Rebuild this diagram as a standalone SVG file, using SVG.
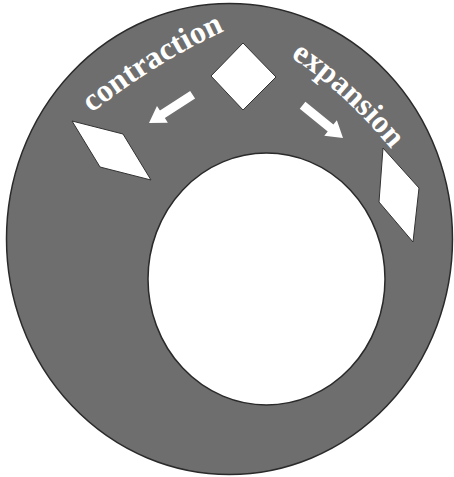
<svg xmlns="http://www.w3.org/2000/svg" width="454" height="477" viewBox="0 0 454 477">
  <defs>
    <style>
      .ring { fill: #6e6e6e; stroke: #2a2a2a; stroke-width: 1.5; }
      .hole { fill: #ffffff; stroke: #2a2a2a; stroke-width: 1.5; }
      .cut { fill: #ffffff; stroke: #333333; stroke-width: 1; stroke-linejoin: miter; }
      .arrow { fill: #ffffff; stroke: none; }
      .lbl { font-family: "Liberation Serif", "Times New Roman", serif; font-weight: bold; font-size: 32px; fill: #ffffff; }
    </style>
    <path id="pContraction" d="M 88 116 Q 155 62 229 29" fill="none"/>
    <path id="pExpansion" d="M 290 57 Q 340 88 392 150" fill="none"/>
  </defs>

  <g id="outer-ring">
    <ellipse class="ring" cx="229.5" cy="239" rx="223" ry="235.5"/>
  </g>
  <g id="inner-circle">
    <ellipse class="hole" cx="266.5" cy="279" rx="118.5" ry="126"/>
  </g>

  <g id="diamond-top">
    <polygon class="cut" points="243,43 276,77 243,110 211,76"/>
  </g>
  <g id="parallelogram-left">
    <polygon class="cut" points="72,121 123,134 151,180 100,167"/>
  </g>
  <g id="parallelogram-right">
    <polygon class="cut" points="383,148 419,188 413,242 379,202"/>
  </g>

  <g id="connectors">
    <polygon class="arrow" transform="translate(149,123) rotate(147)" points="0,0 -16,-10 -16,-4.5 -52,-4.5 -52,4.5 -16,4.5 -16,10"/>
    <polygon class="arrow" transform="translate(343,138) rotate(39)" points="0,0 -16,-10 -16,-4.5 -52,-4.5 -52,4.5 -16,4.5 -16,10"/>
  </g>

  <g id="labels">
    <text class="lbl"><textPath href="#pContraction" startOffset="50%" text-anchor="middle">contraction</textPath></text>
    <text class="lbl"><textPath href="#pExpansion" startOffset="50%" text-anchor="middle">expansion</textPath></text>
  </g>
</svg>
